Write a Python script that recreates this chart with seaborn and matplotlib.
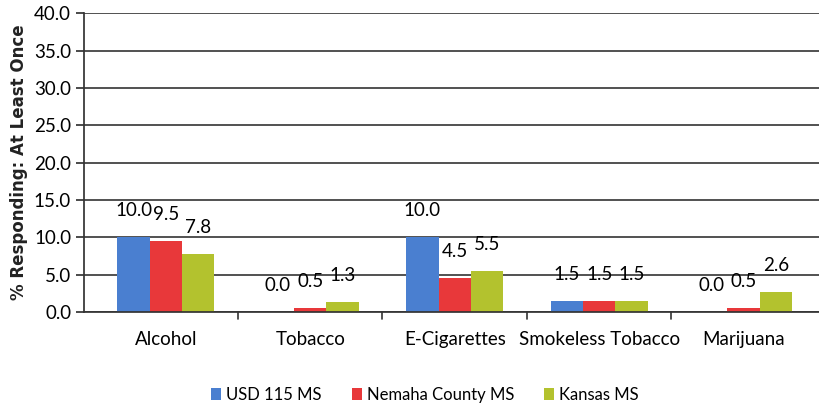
import matplotlib
matplotlib.use("Agg")
import matplotlib.pyplot as plt
import seaborn as sns
import pandas as pd

categories = ["Alcohol", "Tobacco", "E-Cigarettes", "Smokeless Tobacco", "Marijuana"]
series_names = ["USD 115 MS", "Nemaha County MS", "Kansas MS"]
usd115 = [10.0, 0.0, 10.0, 1.5, 0.0]
nemaha = [9.5, 0.5, 4.5, 1.5, 0.5]
kansas = [7.8, 1.3, 5.5, 1.5, 2.6]
yticks = [0.0, 5.0, 10.0, 15.0, 20.0, 25.0, 30.0, 35.0, 40.0]

rows = []
for name, vals in zip(series_names, [usd115, nemaha, kansas]):
    for c, v in zip(categories, vals):
        rows.append({"Category": c, "Series": name, "Value": v})
df = pd.DataFrame(rows)

sns.set_theme(style="white")
plt.rcParams["font.family"] = ["Lato", "DejaVu Sans"]
plt.rcParams["text.color"] = "black"
plt.rcParams["xtick.color"] = "black"
plt.rcParams["ytick.color"] = "black"

colors = ["#4a7fd0", "#e8383a", "#b3c22e"]
fig = plt.figure(figsize=(8.2, 4.05), dpi=100)
ax = fig.add_axes([0.102, 0.23, 0.905, 0.737])
sns.barplot(data=df, x="Category", y="Value", hue="Series", palette=colors,
            width=0.67, saturation=1, linewidth=0, ax=ax, legend=True)

ax.set_ylim(0, 40)
ax.set_yticks(yticks)
ax.set_yticklabels([f"{t:.1f}" for t in yticks], fontsize=13.5)
ax.set_xlabel("")
ax.set_ylabel("% Responding: At Least Once", fontsize=12, fontweight="bold",
              family="DejaVu Sans", color="#222222", labelpad=4)
ax.tick_params(axis="x", labelsize=13.5, length=0, pad=14)
ax.tick_params(axis="y", length=6, direction="out", left=True, color="#333333", pad=3)
ax.yaxis.grid(True, color="#222222", linewidth=1.1)
ax.set_axisbelow(True)
for s in ["top", "right"]:
    ax.spines[s].set_visible(False)
ax.spines["left"].set_color("#333333")
ax.spines["bottom"].set_color("#333333")

# category separator ticks
for i in range(len(categories) - 1):
    ax.plot([i + 0.5, i + 0.5], [0, -0.9], color="#333333", lw=1.2, clip_on=False)

for cont in ax.containers:
    ax.bar_label(cont, fmt="%.1f", padding=13, fontsize=13.5)

leg = ax.legend(loc="upper center", bbox_to_anchor=(0.46, -0.2), ncol=3,
                frameon=False, fontsize=12, handlelength=0.6, handleheight=0.7,
                columnspacing=1.8, handletextpad=0.3)
fig.savefig("out.png", dpi=100)
